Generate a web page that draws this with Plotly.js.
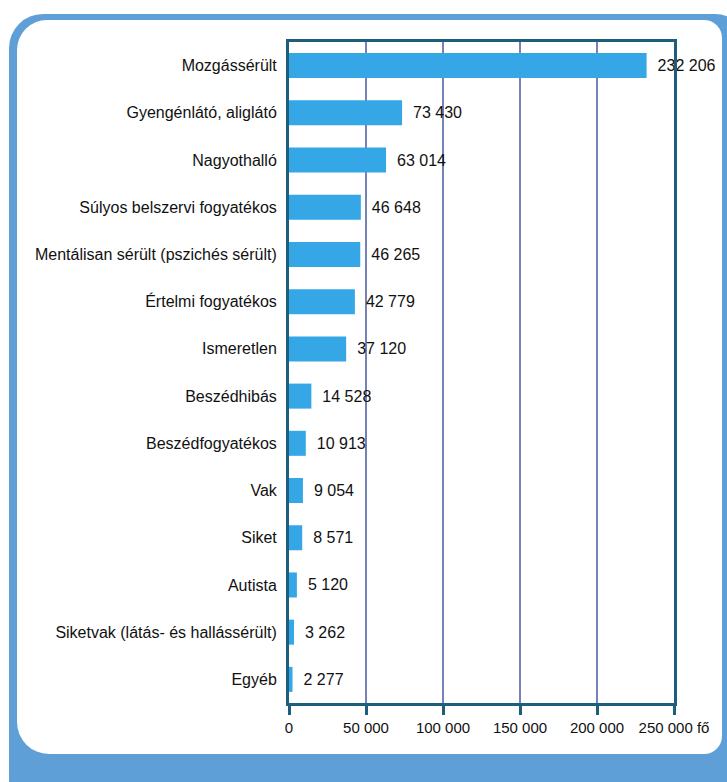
<!DOCTYPE html>
<html>
<head>
<meta charset="utf-8">
<script src="https://cdn.plot.ly/plotly-3.0.1.min.js"></script>
<style>
  html, body { margin: 0; padding: 0; background: #ffffff; }
  #wrap { position: relative; width: 727px; height: 782px; overflow: hidden; background: #ffffff; }
  #outer { position: absolute; left: 9px; top: 14px; width: 740px; height: 800px;
           background: #5d9fd6; border-radius: 34px; }
  #inner { position: absolute; left: 17px; top: 20px; width: 705px; height: 734px;
           background: #ffffff; border-radius: 30px 18px 18px 32px; }
  #chart { position: absolute; left: 0; top: 0; width: 727px; height: 782px; }
</style>
</head>
<body>
<div id="wrap">
  <div id="outer"></div>
  <div id="inner"></div>
  <div id="chart"></div>
</div>
<script>
const categories = [
  "Mozgássérült",
  "Gyengénlátó, aliglátó",
  "Nagyothalló",
  "Súlyos belszervi fogyatékos",
  "Mentálisan sérült (pszichés sérült)",
  "Értelmi fogyatékos",
  "Ismeretlen",
  "Beszédhibás",
  "Beszédfogyatékos",
  "Vak",
  "Siket",
  "Autista",
  "Siketvak (látás- és hallássérült)",
  "Egyéb"
];
const values = [232206, 73430, 63014, 46648, 46265, 42779, 37120, 14528, 10913, 9054, 8571, 5120, 3262, 2277];
const tickValues = [0, 50000, 100000, 150000, 200000, 250000];
const tickLabels = ["0", "50 000", "100 000", "150 000", "200 000", "250 000 fő"];

function fmt(v) { return String(v).replace(/\B(?=(\d{3})+(?!\d))/g, " "); }
const labels = values.map(v => "\u2002" + fmt(v));

const FONT = "Liberation Sans, Arial, sans-serif";
const TEAL = "#1d5e7c";

const trace = {
  type: "bar",
  orientation: "h",
  x: values,
  y: categories,
  width: 0.53,
  marker: { color: "#35a7e6", line: { width: 0 } },
  text: labels,
  textposition: "outside",
  cliponaxis: false,
  textfont: { family: FONT, size: 16, color: "#111111" },
  hoverinfo: "x+y"
};

const layout = {
  width: 727,
  height: 782,
  margin: { l: 289, r: 53, t: 42, b: 79 },
  paper_bgcolor: "rgba(0,0,0,0)",
  plot_bgcolor: "rgba(0,0,0,0)",
  showlegend: false,
  bargap: 0.47,
  xaxis: {
    range: [0, 250000],
    tickvals: tickValues,
    ticktext: tickLabels,
    showgrid: true,
    gridcolor: "#7482b6",
    gridwidth: 1.5,
    zeroline: false,
    showline: true,
    mirror: true,
    linecolor: TEAL,
    linewidth: 3,
    ticks: "outside",
    ticklen: 9,
    tickwidth: 3,
    tickcolor: TEAL,
    tickfont: { family: FONT, size: 15, color: "#111111" },
    fixedrange: true
  },
  yaxis: {
    type: "category",
    categoryorder: "array",
    categoryarray: categories,
    range: [13.5, -0.5],
    showgrid: false,
    zeroline: false,
    showline: true,
    mirror: true,
    linecolor: TEAL,
    linewidth: 3,
    ticks: "outside",
    ticklen: 6,
    tickcolor: "rgba(0,0,0,0)",
    tickfont: { family: FONT, size: 16, color: "#111111" },
    fixedrange: true
  }
};

Plotly.newPlot("chart", [trace], layout, { displayModeBar: false, staticPlot: true });
</script>
</body>
</html>
